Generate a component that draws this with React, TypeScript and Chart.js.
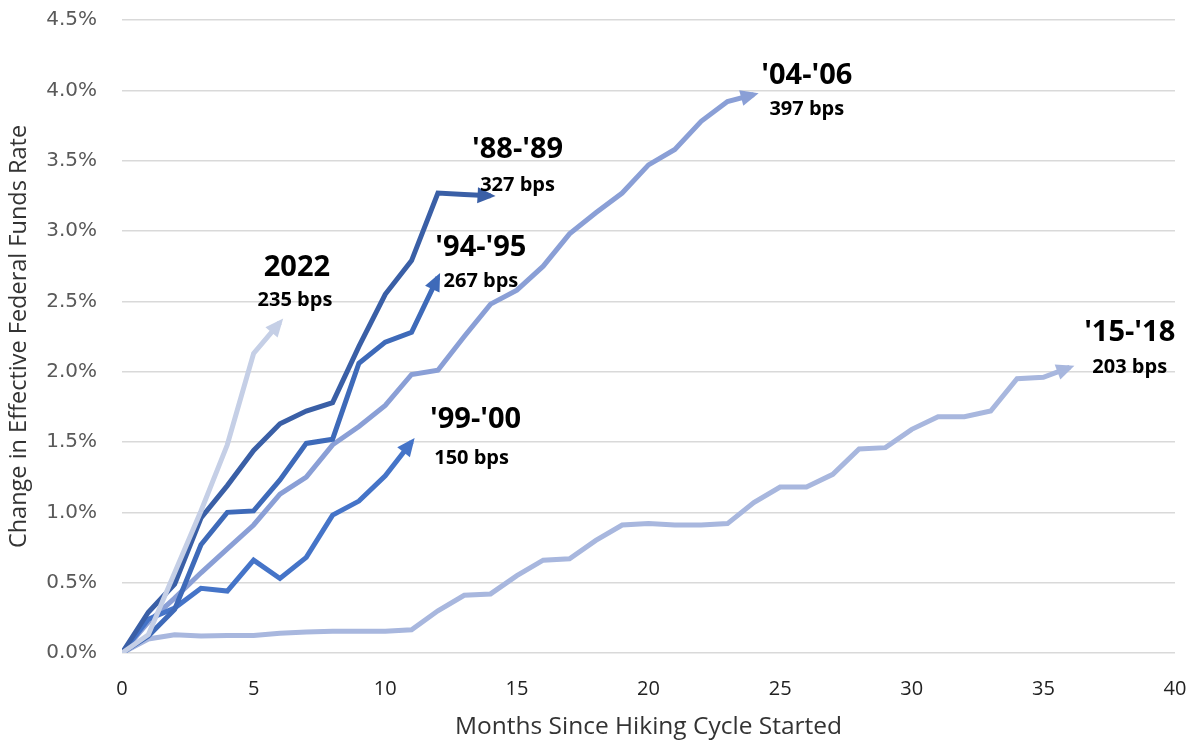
import React, { useEffect, useRef } from "react";
import { Chart, registerables } from "chart.js";

Chart.register(...registerables);

// Months since hiking cycle started (x) — values are change in EFFR (%)
const cycle2022 = [0, 0.13, 0.57, 1.01, 1.48, 2.13, 2.35];
const cycle8889 = [0, 0.29, 0.49, 0.96, 1.19, 1.44, 1.63, 1.72, 1.78, 2.18, 2.55, 2.79, 3.27, 3.26, 3.25];
const cycle9495 = [0, 0.12, 0.31, 0.77, 1.0, 1.01, 1.23, 1.49, 1.52, 2.06, 2.21, 2.28, 2.67];
const cycle9900 = [0, 0.24, 0.32, 0.46, 0.44, 0.66, 0.53, 0.68, 0.98, 1.08, 1.26, 1.5];
const cycle0406 = [0, 0.22, 0.39, 0.57, 0.74, 0.91, 1.13, 1.25, 1.48, 1.61, 1.76, 1.98, 2.01, 2.25, 2.48, 2.58, 2.75, 2.98, 3.13, 3.27, 3.47, 3.58, 3.78, 3.92, 3.97];
const cycle1518 = [0, 0.1, 0.13, 0.12, 0.125, 0.125, 0.14, 0.15, 0.155, 0.155, 0.155, 0.165, 0.3, 0.41, 0.42, 0.55, 0.66, 0.67, 0.8, 0.91, 0.92, 0.91, 0.91, 0.92, 1.07, 1.18, 1.18, 1.27, 1.45, 1.46, 1.59, 1.68, 1.68, 1.72, 1.95, 1.96, 2.03];

const seriesNames = ["2022", "'88-'89", "'94-'95", "'99-'00", "'04-'06", "'15-'18"];
const seriesBps = ["235 bps", "327 bps", "267 bps", "150 bps", "397 bps", "203 bps"];
const seriesValues = [cycle2022, cycle8889, cycle9495, cycle9900, cycle0406, cycle1518];

const xTicks = { min: 0, max: 40, step: 5 };
const yTicks = { min: 0, max: 4.5, step: 0.5 };

// styling (colours + label offsets in px relative to arrow tip)
const colors = ["#C5CFE6", "#3A5FA6", "#3E6AB9", "#4574C8", "#8A9FD6", "#A8B7DE"];
const labelOffsets = [
  { tx: 17, ty: -55, sx: 15, sy: -22 },
  { tx: 27, ty: -46, sx: 27, sy: -11 },
  { tx: 43, ty: -30, sx: 43, sy: 4 },
  { tx: 64, ty: -22, sx: 60, sy: 16 },
  { tx: 53, ty: -19, sx: 53, sy: 15 },
  { tx: 60, ty: -35, sx: 60, sy: 0 },
];

const FONT = "'Open Sans', 'Noto Sans', sans-serif";

const arrowPlugin = {
  id: "arrowsAndLabels",
  afterDatasetsDraw(chart: any) {
    const ctx = chart.ctx;
    const n = chart.data.datasets.length;
    for (let i = n - 1; i >= 0; i--) {
      const meta = chart.getDatasetMeta(i);
      const pts = meta.data;
      if (pts.length < 2) continue;
      const a = pts[pts.length - 2];
      const b = pts[pts.length - 1];
      const ang = Math.atan2(b.y - a.y, b.x - a.x);
      const len = 18;
      const half = 8;
      const ext = 5;
      const tipX = b.x + Math.cos(ang) * ext;
      const tipY = b.y + Math.sin(ang) * ext;
      const bx = tipX - Math.cos(ang) * len;
      const by = tipY - Math.sin(ang) * len;
      ctx.save();
      ctx.fillStyle = colors[i];
      ctx.beginPath();
      ctx.moveTo(tipX, tipY);
      ctx.lineTo(bx + Math.cos(ang + Math.PI / 2) * half, by + Math.sin(ang + Math.PI / 2) * half);
      ctx.lineTo(bx - Math.cos(ang + Math.PI / 2) * half, by - Math.sin(ang + Math.PI / 2) * half);
      ctx.closePath();
      ctx.fill();
      ctx.restore();
    }
    ctx.save();
    ctx.fillStyle = "#000";
    ctx.textAlign = "center";
    ctx.textBaseline = "middle";
    for (let i = 0; i < n; i++) {
      const meta = chart.getDatasetMeta(i);
      const b = meta.data[meta.data.length - 1];
      const o = labelOffsets[i];
      ctx.font = `bold 29px ${FONT}`;
      ctx.fillText(seriesNames[i], b.x + o.tx, b.y + o.ty);
      ctx.font = `bold 20px ${FONT}`;
      ctx.fillText(seriesBps[i], b.x + o.sx, b.y + o.sy);
    }
    ctx.restore();
  },
};

export default function App() {
  const ref = useRef<HTMLCanvasElement>(null);
  useEffect(() => {
    if (!ref.current) return;
    const chart = new Chart(ref.current, {
      type: "line",
      data: {
        datasets: seriesValues.map((vals, i) => ({
          label: seriesNames[i],
          data: vals.map((v, m) => ({ x: m, y: v })),
          borderColor: colors[i],
          backgroundColor: colors[i],
          borderWidth: 5,
          pointRadius: 0,
          tension: 0,
          fill: false,
          borderJoinStyle: "miter" as const,
        })),
      },
      options: {
        animation: false,
        responsive: true,
        maintainAspectRatio: false,
        layout: { padding: { left: 0, right: 20, top: 20, bottom: 0 } },
        plugins: { legend: { display: false }, tooltip: { enabled: false } },
        scales: {
          x: {
            type: "linear",
            min: xTicks.min,
            max: xTicks.max,
            grid: {
              display: true,
              drawOnChartArea: false,
              drawTicks: true,
              tickLength: 21,
              color: "rgba(0,0,0,0)",
              tickColor: "rgba(0,0,0,0)",
            },
            border: { display: false },
            ticks: {
              stepSize: xTicks.step,
              padding: 3,
              color: "#222",
              font: { family: FONT, size: 20 },
            },
            title: {
              display: true,
              text: "Months Since Hiking Cycle Started",
              color: "#333",
              font: { family: FONT, size: 24.5 },
              padding: { top: 0, bottom: 1 },
            },
            afterFit: (s: any) => {
              s.height = 90;
            },
          },
          y: {
            min: yTicks.min,
            max: yTicks.max,
            grid: {
              color: "#D9D9D9",
              lineWidth: 1.5,
              drawTicks: true,
              tickLength: 22,
              tickColor: "rgba(0,0,0,0)",
            },
            border: { display: false },
            ticks: {
              stepSize: yTicks.step,
              padding: 3,
              color: "#595959",
              font: { family: "'DejaVu Sans', sans-serif", size: 20 },
              callback: (v: any) => Number(v).toFixed(1) + "%",
            },
            title: {
              display: true,
              text: "Change in Effective Federal Funds Rate",
              color: "#333",
              font: { family: FONT, size: 23.5 },
              padding: { top: 5, bottom: 0 },
            },
            afterFit: (s: any) => {
              s.width = 122;
            },
          },
        },
      },
      plugins: [arrowPlugin],
    });
    return () => chart.destroy();
  }, []);
  return (
    <div style={{ position: "fixed", left: 0, top: 0, width: 1195, height: 743, background: "#fff" }}>
      <canvas ref={ref} />
    </div>
  );
}
